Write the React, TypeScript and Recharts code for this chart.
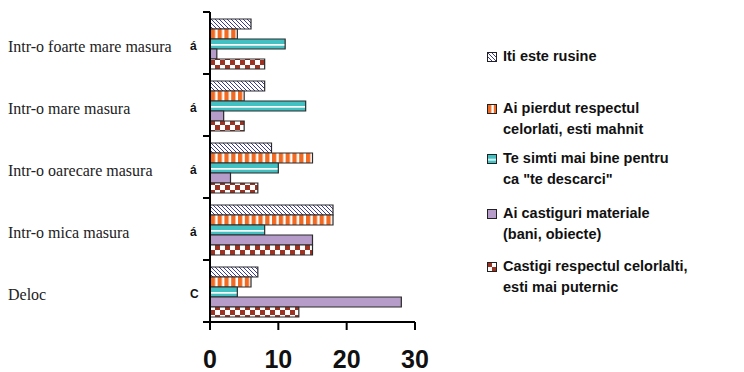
import { BarChart, Bar, XAxis, YAxis, Legend } from 'recharts';

const categories = [
  'Intr-o foarte mare masura',
  'Intr-o mare masura',
  'Intr-o oarecare masura',
  'Intr-o mica masura',
  'Deloc',
];
// stray glyphs printed next to the axis in the original
const axisMarks = ['á', 'á', 'á', 'á', 'C'];

const rusine = [6, 8, 9, 18, 7];
const pierdut = [4, 5, 15, 18, 6];
const simti = [11, 14, 10, 8, 4];
const castiguri = [1, 2, 3, 15, 28];
const respect = [8, 5, 7, 15, 13];

const xTicks = [0, 10, 20, 30];

const SERIES = [
  { key: 'rusine', label: ['Iti este rusine'], fill: 'url(#hatch)' },
  { key: 'pierdut', label: ['Ai pierdut respectul', 'celorlati, esti mahnit'], fill: 'url(#vstripe)' },
  { key: 'simti', label: ['Te simti mai bine pentru', 'ca "te descarci"'], fill: 'url(#hstripe)' },
  { key: 'castiguri', label: ['Ai castiguri materiale', '(bani, obiecte)'], fill: '#b59cc9' },
  { key: 'respect', label: ['Castigi respectul celorlalti,', 'esti mai puternic'], fill: 'url(#checker)' },
];

const data = categories.map((name, i) => ({
  name,
  mark: axisMarks[i],
  rusine: rusine[i],
  pierdut: pierdut[i],
  simti: simti[i],
  castiguri: castiguri[i],
  respect: respect[i],
}));

const BAND = 62;

const CategoryTick = (props: any) => {
  const { x, y, payload, index } = props;
  const half = BAND / 2;
  return (
    <g>
      <line x1={x - 7} x2={x} y1={y - half} y2={y - half} stroke="#000" strokeWidth={2} />
      {index === categories.length - 1 && (
        <line x1={x - 7} x2={x} y1={y + half} y2={y + half} stroke="#000" strokeWidth={2} />
      )}
      <text x={8} y={y + 3} dy="0.35em" fontFamily="'Liberation Serif', serif" fontSize={16} fill="#222">
        {payload.value}
      </text>
      <text x={190} y={y + 3} dy="0.35em" fontFamily="Arial, 'Liberation Sans', sans-serif" fontWeight="bold" fontSize={12} fill="#111">
        {axisMarks[index]}
      </text>
    </g>
  );
};

const ValueTick = (props: any) => {
  const { x, payload } = props;
  return (
    <text x={x} y={368} textAnchor="middle" fontFamily="Arial, 'Liberation Sans', sans-serif" fontWeight="bold" fontSize={25} fill="#111">
      {payload.value}
    </text>
  );
};

const legendTops = [46, 98, 148, 203, 256];

const LegendContent = () => (
  <div style={{ position: 'relative', width: 260, height: 270, fontFamily: "Arial, 'Liberation Sans', sans-serif", fontWeight: 'bold', fontSize: 14.5, color: '#111' }}>
    {SERIES.map((s, i) => (
      <div key={s.key} style={{ position: 'absolute', left: 0, top: legendTops[i] - 40, lineHeight: '21px' }}>
        <svg width={10} height={10} style={{ position: 'absolute', left: 7, top: 6 }}>
          <rect x={0.5} y={0.5} width={9} height={9} fill={s.fill} stroke="#222" strokeWidth={1} />
        </svg>
        <div style={{ marginLeft: 23, whiteSpace: 'nowrap' }}>
          {s.label.map((l) => (
            <div key={l}>{l}</div>
          ))}
        </div>
      </div>
    ))}
  </div>
);

export default function App() {
  return (
    <div style={{ position: 'absolute', left: 0, top: 0, background: '#fff' }}>
      <BarChart
        width={744}
        height={372}
        data={data}
        layout="vertical"
        margin={{ top: 12, right: 329, bottom: 0, left: 0 }}
        barCategoryGap={7}
        barGap={0}
      >
        <defs>
          <pattern id="hatch" patternUnits="userSpaceOnUse" width={4} height={4}>
            <rect width={4} height={4} fill="#fff" />
            <path d="M-1,-1 L5,5 M-1,3 L1,5 M3,-1 L5,1" stroke="#3a3a96" strokeWidth={1} />
          </pattern>
          <pattern id="vstripe" patternUnits="userSpaceOnUse" width={6.8} height={10}>
            <rect width={6.8} height={10} fill="#fff" />
            <rect width={4.3} height={10} fill="#f26a22" />
          </pattern>
          <pattern id="hstripe" patternUnits="objectBoundingBox" patternContentUnits="objectBoundingBox" width={1} height={1}>
            <rect width={1} height={1} fill="#42c0c2" />
            <rect y={0.5} width={1} height={0.17} fill="#fff" />
          </pattern>
          <pattern id="checker" patternUnits="userSpaceOnUse" width={10} height={10}>
            <rect width={10} height={10} fill="#fff" />
            <rect width={5} height={5} fill="#9c3222" />
            <rect x={5} y={5} width={5} height={5} fill="#9c3222" />
          </pattern>
        </defs>
        <XAxis
          type="number"
          domain={[0, 30]}
          ticks={xTicks}
          height={50}
          axisLine={{ stroke: '#000', strokeWidth: 2 }}
          tickLine={{ stroke: '#000', strokeWidth: 2 }}
          tickSize={8}
          tick={<ValueTick />}
        />
        <YAxis
          type="category"
          dataKey="name"
          width={210}
          axisLine={{ stroke: '#000', strokeWidth: 2 }}
          tickLine={false}
          tickSize={0}
          tickMargin={0}
          tick={<CategoryTick />}
          interval={0}
        />
        <Legend
          layout="horizontal"
          verticalAlign="middle"
          align="center"
          wrapperStyle={{ left: 480, top: 40, width: 260 }}
          content={<LegendContent />}
        />
        {SERIES.map((s) => (
          <Bar
            key={s.key}
            dataKey={s.key}
            fill={s.fill}
            stroke="#2b2b2b"
            strokeWidth={1.2}
            isAnimationActive={false}
          />
        ))}
      </BarChart>
    </div>
  );
}
